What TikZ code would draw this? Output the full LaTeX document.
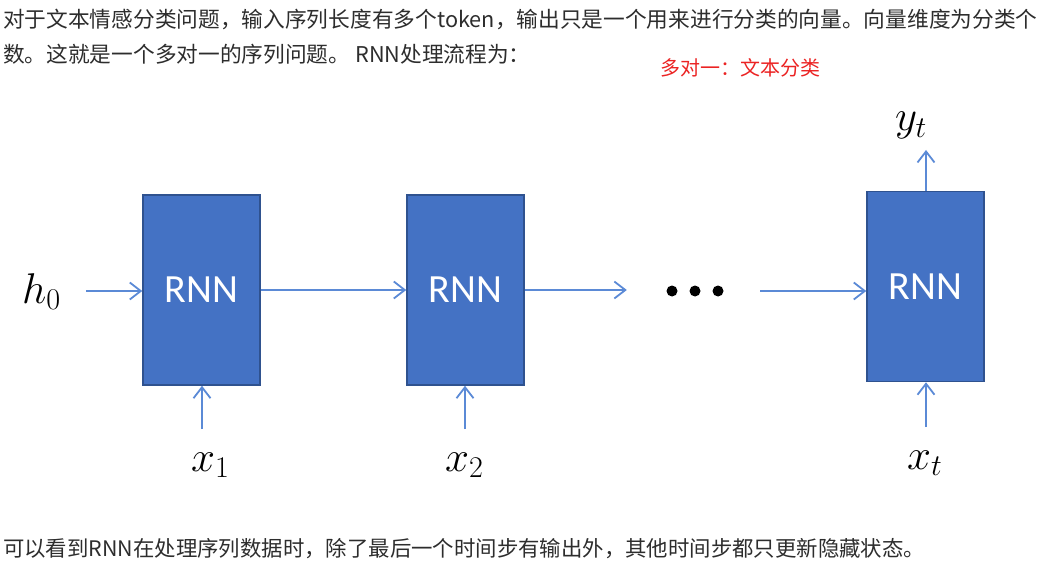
\documentclass[tikz,border=0pt]{standalone}
\usepackage{fix-cm}
\usepackage{fontspec}
\setmainfont{Noto Sans CJK SC}
\newfontfamily\rnnfont{Carlito}
\usetikzlibrary{arrows.meta}

\definecolor{rnnblue}{RGB}{68,114,196}
\definecolor{rnnedge}{RGB}{47,82,143}
\definecolor{flowblue}{RGB}{91,138,214}
\definecolor{bodygray}{RGB}{45,45,45}
\definecolor{notered}{RGB}{235,35,35}

\tikzset{
  rnnbox/.style={draw=rnnedge, fill=rnnblue, line width=1.5pt, inner sep=0pt,
    minimum width=117pt, minimum height=190pt, text=white,
    font=\rnnfont\fontsize{40}{40}\selectfont},
  flow/.style={draw=flowblue, line width=1.8pt, -{Straight Barb[length=11pt,width=17pt,line width=1.8pt]}},
  symb/.style={anchor=base west, inner sep=0pt, font=\fontsize{43}{43}\selectfont},
  prose/.style={anchor=base west, inner sep=0pt, text=bodygray, font=\fontsize{21.7}{21.7}\selectfont}
}

\begin{document}
\begin{tikzpicture}[x=1pt,y=-1pt]
\useasboundingbox (0,0) rectangle (1041,572);

% Text above and below
\node[prose] (line1) at (3,28) {对于文本情感分类问题，输入序列长度有多个token，输出只是一个用来进行分类的向量。向量维度为分类个};
\node[prose] (line2) at (3,63) {数。这就是一个多对一的序列问题。 RNN处理流程为：};
\node[prose, text=notered, font=\fontsize{20}{20}\selectfont] (note) at (660,76) {多对一：文本分类};
\node[prose, font=\fontsize{21.4}{21.4}\selectfont] (line3) at (3,556) {可以看到RNN在处理序列数据时，除了最后一个时间步有输出外，其他时间步都只更新隐藏状态。};

% RNN cells
\node[rnnbox] (r1) at (201.5,290) {RNN};
\node[rnnbox] (r2) at (465.5,290) {RNN};
\node[rnnbox] (r3) at (925.5,286.5) {RNN};

% Dots
\node[minimum width=60pt, minimum height=12pt, inner sep=0pt] (dots) at (695,291) {};
\foreach \dx in {-23,0,23}
  \fill ([xshift=\dx pt]dots.center) circle (5.5pt);

% Symbols
\node[symb] (h0) at (22,303) {$h_0$};
\node[symb] (x1) at (191,471) {$x_1$};
\node[symb] (x2) at (445,471) {$x_2$};
\node[symb] (xt) at (907,469) {$x_t$};
\node[symb] (yt) at (895,131) {$y_t$};

% Free ends of the arrows
\coordinate (h0in) at (86,291);
\coordinate (in1) at (202,429);
\coordinate (in2) at (465,429);
\coordinate (int) at (926,427);
\coordinate (out) at (926,150);

% Hidden state flow
\draw[flow] (h0in) -- (h0in -| r1.west);
\draw[flow] (r1.east) -- (r2.west);
\draw[flow, shorten >=38pt] (r2.east) -- (dots.west |- r2.east);
\draw[flow, shorten <=35pt] (dots.east) -- (dots.east -| r3.west);

% Inputs and output
\draw[flow] (in1) -- (in1 |- r1.south);
\draw[flow] (in2) -- (in2 |- r2.south);
\draw[flow] (int) -- (int |- r3.south);
\draw[flow] (r3.north -| out) -- (out);

\end{tikzpicture}
\end{document}
